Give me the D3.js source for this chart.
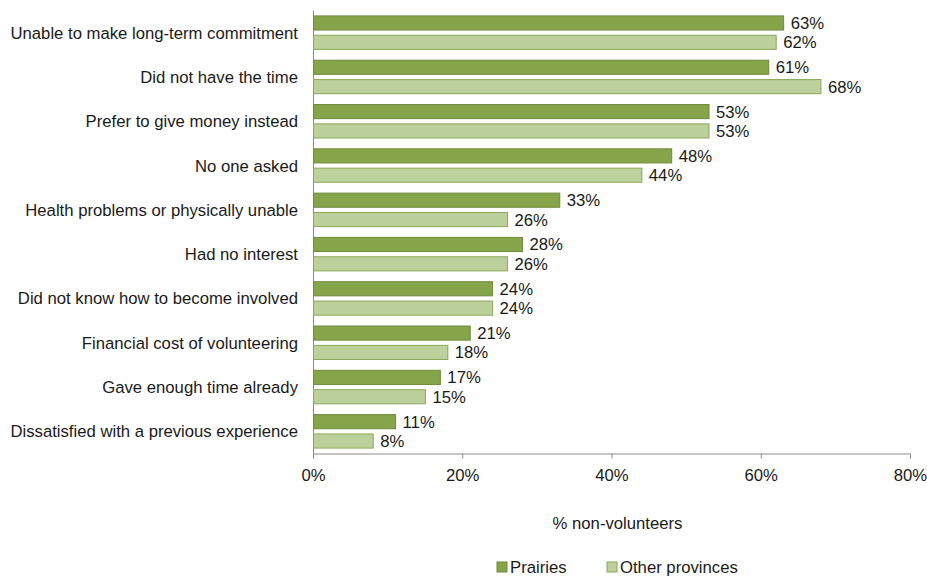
<!DOCTYPE html>
<html><head><meta charset="utf-8">
<script src="https://cdn.jsdelivr.net/npm/d3@7"></script>
<style>body{margin:0;background:#fff}text{font-family:"Liberation Sans",Arial,sans-serif;fill:#1a1a1a}</style>
</head><body><svg id="c" width="927" height="576"></svg>
<script>
const categories = ["Unable to make long-term commitment","Did not have the time","Prefer to give money instead","No one asked","Health problems or physically unable","Had no interest","Did not know how to become involved","Financial cost of volunteering","Gave enough time already","Dissatisfied with a previous experience"];
const prairies = [63,61,53,48,33,28,24,21,17,11];
const otherProvinces = [62,68,53,44,26,26,24,18,15,8];
const seriesNames = ["Prairies","Other provinces"];
const tickValues = [0,20,40,60,80];
const colors = ["#86a44a","#bbd09a"];
const strokes = ["#6f8a3b","#8aa957"];
const FS = 16.7;

const svg = d3.select("#c");
const x = d3.scaleLinear().domain([0,80]).range([313,910]);
const y = d3.scaleBand().domain(categories).range([10.5,453.5]);
const inner = d3.scaleBand().domain(seriesNames).range([0,y.bandwidth()]).paddingInner(0.27).paddingOuter(0.28);

svg.append("line").attr("x1",x(0)+0.5).attr("x2",x(0)+0.5).attr("y1",10.5).attr("y2",453.5).attr("stroke","#8c8c8c");
const xa = svg.append("g").attr("transform","translate(0,453.5)")
 .call(d3.axisBottom(x).tickValues(tickValues).tickFormat(d=>d+"%").tickSize(5).tickPadding(11));
xa.select(".domain").attr("stroke","#8c8c8c");
xa.selectAll(".tick line").attr("stroke","#8c8c8c");
xa.selectAll("text").attr("font-size",FS).attr("fill","#1a1a1a").style("font-family","Liberation Sans, Arial, sans-serif");

const data = [prairies, otherProvinces];
categories.forEach((c,i)=>{
  seriesNames.forEach((s,j)=>{
    const v = data[j][i];
    const yy = y(c)+inner(s);
    svg.append("rect").attr("x",x(0)+0.5).attr("y",yy).attr("width",x(v)-x(0)).attr("height",inner.bandwidth())
      .attr("fill",colors[j]).attr("stroke",strokes[j]).attr("stroke-width",1);
    svg.append("text").attr("x",x(v)+7.5).attr("y",yy+inner.bandwidth()/2).attr("dy","0.36em")
      .attr("font-size",FS).text(v+"%");
  });
  svg.append("text").attr("x",298).attr("y",y(c)+y.bandwidth()/2).attr("dy","0.36em")
    .attr("text-anchor","end").attr("font-size",FS).text(c);
});

svg.append("text").attr("x",(x(0)+x(80))/2+6).attr("y",523).attr("dy","0.36em").attr("text-anchor","middle").attr("font-size",FS).text("% non-volunteers");

const leg = [{x:497},{x:607}];
seriesNames.forEach((s,j)=>{
  svg.append("rect").attr("x",leg[j].x).attr("y",562).attr("width",10).attr("height",10).attr("fill",colors[j]).attr("stroke",strokes[j]);
  svg.append("text").attr("x",leg[j].x+13).attr("y",566.5).attr("dy","0.36em").attr("font-size",FS).text(s);
});
</script></body></html>
